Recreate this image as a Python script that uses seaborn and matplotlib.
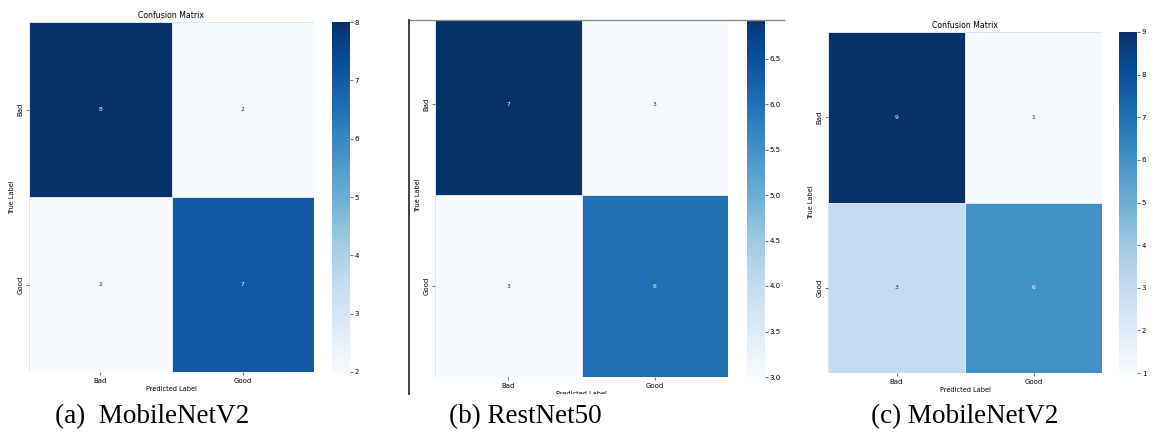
import matplotlib
matplotlib.use('Agg')
import matplotlib.pyplot as plt
from matplotlib.lines import Line2D
from matplotlib.patches import Rectangle
import numpy as np
import seaborn as sns

# class names and confusion matrices (rows = true, cols = predicted)
labels = ['Bad', 'Good']
cm_mobilenet_a = [[8, 2], [2, 7]]
cm_resnet = [[7, 3], [3, 6]]
cm_mobilenet_c = [[9, 1], [3, 6]]
captions = ['(a)  MobileNetV2', '(b) RestNet50', '(c) MobileNetV2']

W, H = 1164, 432
fig = plt.figure(figsize=(W / 100, H / 100), dpi=100)


def px_axes(x0, y0, x1, y1):
    # place axes using pixel box (top-left origin)
    return fig.add_axes([x0 / W, 1 - y1 / H, (x1 - x0) / W, (y1 - y0) / H])


def draw_cm(cm, box, cbox, cticks=None):
    ax = px_axes(*box)
    cax = px_axes(*cbox)
    sns.heatmap(np.array(cm), annot=True, fmt='d', cmap='Blues', ax=ax, cbar_ax=cax,
                xticklabels=labels, yticklabels=labels,
                linewidths=0.4, linecolor='#dde6f0', annot_kws={'size': 4.3})
    ax.set_title('Confusion Matrix', fontsize=5.6, pad=3)
    ax.set_xlabel('Predicted Label', fontsize=4.7, labelpad=2)
    ax.set_ylabel('True Label', fontsize=4.7, labelpad=2)
    ax.tick_params(labelsize=5, length=2, width=0.4, pad=2)
    plt.setp(ax.get_yticklabels(), rotation=90, va='center')
    if cticks is not None:
        cax.set_yticks(cticks)
    cax.tick_params(labelsize=5, length=2, width=0.4, pad=1.5)
    return ax


draw_cm(cm_mobilenet_a, (29, 22, 314, 372), (332, 22, 350, 372))
draw_cm(cm_resnet, (435, 13, 728, 377), (747, 13, 765, 377),
        cticks=[3.0, 3.5, 4.0, 4.5, 5.0, 5.5, 6.0, 6.5, 7.0])
draw_cm(cm_mobilenet_c, (828, 32, 1102, 373), (1119, 32, 1137, 373))

# panel (b) is a cropped screenshot: mask outside the crop and draw its border
tf = fig.transFigure
fig.add_artist(Rectangle((405 / W, 1 - 20 / H), 385 / W, 20 / H, transform=tf,
                         facecolor='white', edgecolor='none', zorder=5))
fig.add_artist(Rectangle((405 / W, 0), 385 / W, 1 - 394 / H, transform=tf,
                         facecolor='white', edgecolor='none', zorder=5))
fig.add_artist(Line2D([409 / W, 784 / W], [1 - 20 / H, 1 - 20 / H], transform=tf,
                      color='#8a8a8a', lw=1.0, zorder=6))
fig.add_artist(Line2D([409 / W, 409 / W], [1 - 20 / H, 1 - 394 / H], transform=tf,
                      color='#333333', lw=1.3, zorder=6))

for cap, xc in zip(captions, [152, 525, 965]):
    fig.text(xc / W, 1 - 423 / H, cap, ha='center', va='baseline',
             family=['Liberation Serif', 'DejaVu Serif'], fontsize=19.5, zorder=7)

fig.savefig('out.png', dpi=100)
plt.close(fig)
